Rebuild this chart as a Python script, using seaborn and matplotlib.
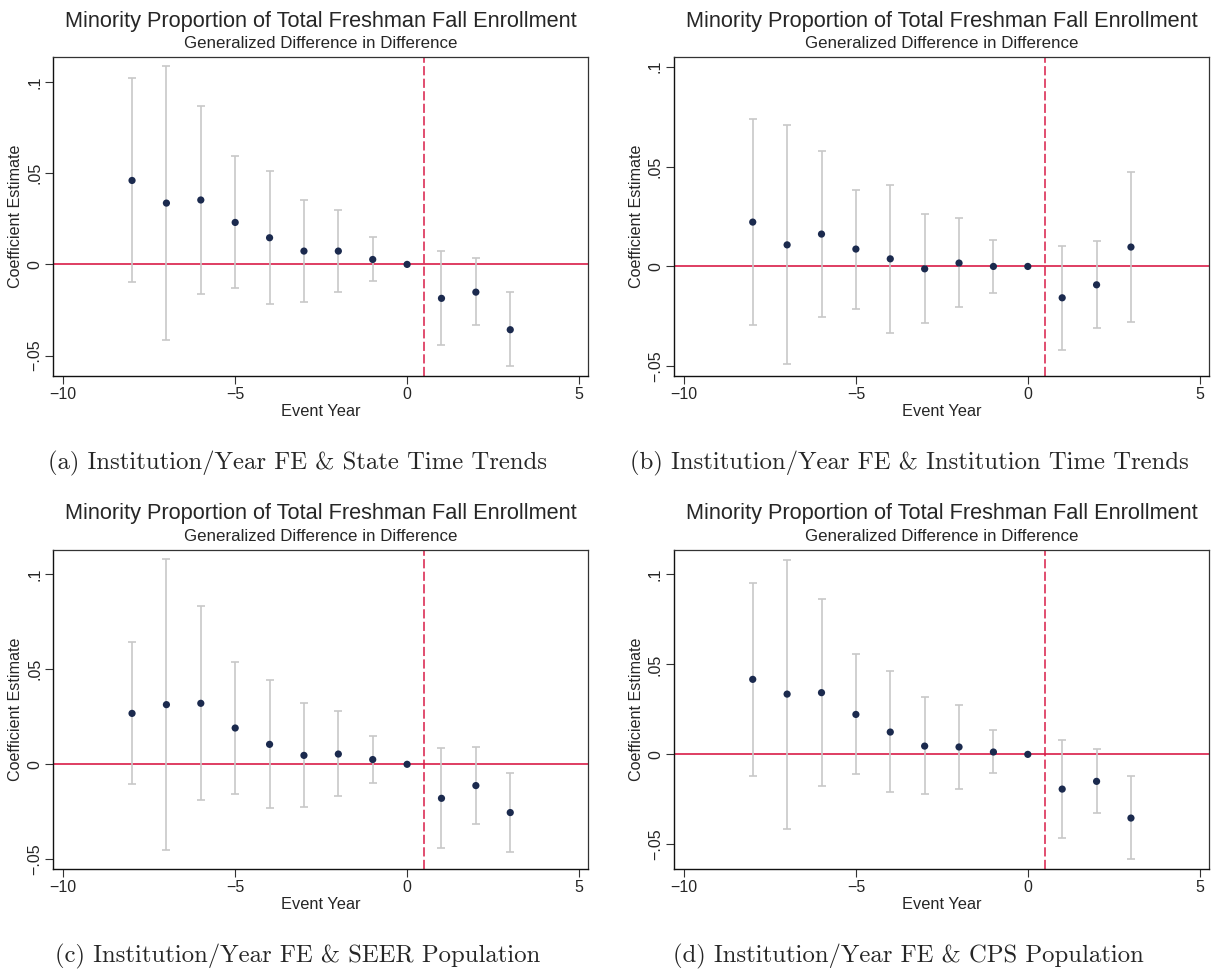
import numpy as np
import pandas as pd
import matplotlib
matplotlib.use("Agg")
import matplotlib.pyplot as plt
import seaborn as sns

# ---------------- data ----------------
event_year = [-8, -7, -6, -5, -4, -3, -2, -1, 0, 1, 2, 3]
nan = np.nan

coef_a = [0.0460, 0.0336, 0.0353, 0.0230, 0.0146, 0.0073, 0.0073, 0.0027, 0.0, -0.0186, -0.0152, -0.0358]
hi_a = [0.1019, 0.1085, 0.0868, 0.0592, 0.0512, 0.0353, 0.0298, 0.0148, nan, 0.0073, 0.0033, -0.0152]
lo_a = [-0.0097, -0.0413, -0.0161, -0.0130, -0.0217, -0.0208, -0.0152, -0.0091, nan, -0.0444, -0.0334, -0.0559]

coef_b = [0.0222, 0.0108, 0.0162, 0.0087, 0.0038, -0.0012, 0.0017, 0.0000, 0.0, -0.0157, -0.0092, 0.0097]
hi_b = [0.0740, 0.0707, 0.0577, 0.0385, 0.0410, 0.0263, 0.0240, 0.0133, nan, 0.0103, 0.0127, 0.0472]
lo_b = [-0.0292, -0.0490, -0.0252, -0.0212, -0.0332, -0.0285, -0.0203, -0.0133, nan, -0.0417, -0.0308, -0.0278]

coef_c = [0.0268, 0.0314, 0.0321, 0.0191, 0.0105, 0.0047, 0.0054, 0.0025, 0.0, -0.0179, -0.0112, -0.0254]
hi_c = [0.0644, 0.1081, 0.0832, 0.0539, 0.0446, 0.0321, 0.0282, 0.0149, nan, 0.0086, 0.0093, -0.0047]
lo_c = [-0.0104, -0.0451, -0.0186, -0.0154, -0.0230, -0.0223, -0.0168, -0.0098, nan, -0.0439, -0.0316, -0.0461]

coef_d = [0.0417, 0.0335, 0.0343, 0.0222, 0.0124, 0.0046, 0.0041, 0.0013, 0.0, -0.0193, -0.0150, -0.0354]
hi_d = [0.0954, 0.1083, 0.0863, 0.0559, 0.0461, 0.0317, 0.0272, 0.0135, nan, 0.0080, 0.0031, -0.0120]
lo_d = [-0.0120, -0.0415, -0.0176, -0.0109, -0.0211, -0.0222, -0.0193, -0.0106, nan, -0.0465, -0.0328, -0.0581]

x_ticks = [-10, -5, 0, 5]
x_ticklabels = ["\u221210", "\u22125", "0", "5"]
y_ticks = [-0.05, 0, 0.05, 0.1]
y_ticklabels = ["\u2212.05", "0", ".05", ".1"]

title = "Minority Proportion of Total Freshman Fall Enrollment"
subtitle = "Generalized Difference in Difference"
xlabel = "Event Year"
ylabel = "Coefficient Estimate"
captions = [
    "(a) Institution/Year FE & State Time Trends",
    "(b) Institution/Year FE & Institution Time Trends",
    "(c) Institution/Year FE & SEER Population",
    "(d) Institution/Year FE & CPS Population",
]
treat_line = 0.5

# ---------------- style ----------------
sns.set_style("white")
plt.rcParams["font.family"] = ["Liberation Sans", "DejaVu Sans"]

NAVY = "#1b2a4e"
GRAY = "#c8c8c8"
RED = "#d91c48"

W, H = 1211, 973
fig = plt.figure(figsize=(W / 100, H / 100), dpi=100)
fig.patch.set_facecolor("white")

# axes boxes in pixels: left, top, right, bottom
boxes = [
    (53.3, 57.3, 588.3, 375.7),
    (674.0, 57.3, 1209.0, 375.7),
    (53.3, 550.0, 588.3, 868.6),
    (674.0, 550.0, 1209.0, 868.6),
]
ylims = [(-0.0610, 0.1135), (-0.0547, 0.1047), (-0.0549, 0.1128), (-0.0635, 0.1136)]
panels = [(coef_a, lo_a, hi_a), (coef_b, lo_b, hi_b), (coef_c, lo_c, hi_c), (coef_d, lo_d, hi_d)]
caption_x = [298, 909, 298, 908]

for i, ((l, t, r, b), (coef, lo, hi)) in enumerate(zip(boxes, panels)):
    ax = fig.add_axes([l / W, 1 - b / H, (r - l) / W, (b - t) / H])
    df = pd.DataFrame({"year": event_year, "coef": coef, "lo": lo, "hi": hi})

    ax.axhline(0, color=RED, lw=1.2, zorder=1)
    ax.axvline(treat_line, color=RED, lw=1.1, dashes=(6, 2.2), zorder=1)

    ci = df.dropna()
    ax.errorbar(ci["year"], ci["coef"],
                yerr=[ci["coef"] - ci["lo"], ci["hi"] - ci["coef"]],
                fmt="none", ecolor=GRAY, elinewidth=1.2, capsize=2.9,
                capthick=1.2, zorder=2)
    sns.scatterplot(data=df, x="year", y="coef", ax=ax, color=NAVY, s=27,
                    edgecolor="none", linewidth=0, zorder=3, legend=False)

    ax.set_xlim(-10.29, 5.27)
    ax.set_ylim(*ylims[i])
    ax.set_xticks(x_ticks)
    ax.set_xticklabels(x_ticklabels)
    ax.set_yticks(y_ticks)
    ax.set_yticklabels(y_ticklabels, rotation=90, va="center")
    ax.tick_params(axis="both", direction="out", length=5.5, width=0.8,
                   color="#333333", labelsize=11.5, pad=2.5,
                   bottom=True, left=True)
    ax.set_xlabel(xlabel, fontsize=11.8, labelpad=1.5)
    ax.set_ylabel(ylabel, fontsize=11.6, labelpad=3)
    for side in ["left", "bottom"]:
        ax.spines[side].set_color("#111111")
        ax.spines[side].set_linewidth(1.0)
    for side in ["top", "right"]:
        ax.spines[side].set_color("#333333")
        ax.spines[side].set_linewidth(0.9)

    cx = (l + r) / 2 / W
    fig.text(cx, 1 - (t - 30.6) / H, title, ha="center", va="baseline", fontsize=15.7)
    fig.text(cx, 1 - (t - 13.8) / H, subtitle, ha="center", va="center", fontsize=12.2)
    fig.text(caption_x[i] / W, 1 - (b + 88) / H, captions[i], ha="center",
             va="center", fontsize=17.8, family="cmr10")

fig.savefig("out.png", dpi=100, facecolor="white")
